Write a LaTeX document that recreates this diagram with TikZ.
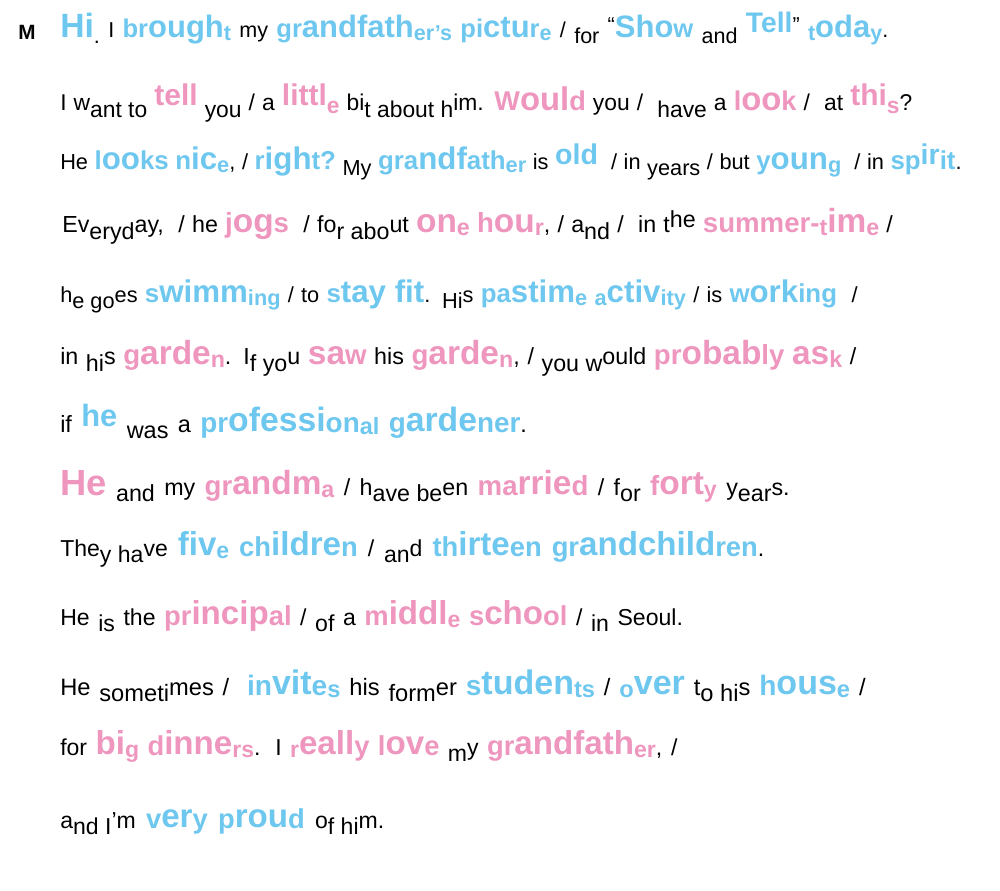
\documentclass[tikz,border=0pt]{standalone}
\usepackage{fontspec}
\setmainfont{Liberation Sans}
\definecolor{cb}{RGB}{110,199,238}
\definecolor{cp}{RGB}{238,150,190}
\def\lk{1}
\newcommand\Dn[1]{\raisebox{\fpeval{-4.3*\lk}pt}{#1}}
\newcommand\Up[1]{\raisebox{\fpeval{3.8*\lk}pt}{#1}}
\newcommand\cseg[4]{\raisebox{\fpeval{#2*\lk}pt}{\fontsize{\fpeval{#1*\lk}}{20}\selectfont\bfseries\color{#3}#4}}
\newcommand\Bs[1]{\cseg{16}{-1.5}{cb}{#1}}
\newcommand\Bm[1]{\cseg{19}{0}{cb}{#1}}
\newcommand\Bl[1]{\cseg{23}{0.5}{cb}{#1}}
\newcommand\Bu[1]{\cseg{21}{4}{cb}{#1}}
\newcommand\Ps[1]{\cseg{16}{-1.5}{cp}{#1}}
\newcommand\Pm[1]{\cseg{19}{0}{cp}{#1}}
\newcommand\Pl[1]{\cseg{23}{0.5}{cp}{#1}}
\newcommand\Pu[1]{\cseg{21}{4}{cp}{#1}}
\newcommand\Ln[3]{{\def\lk{#1}\fontsize{\fpeval{16*#1}}{20}\selectfont\makebox[#2pt][s]{#3}}}
\tikzset{txt/.style={anchor=base west,inner sep=0pt}}
\begin{document}
\begin{tikzpicture}[x=0.75pt,y=-0.75pt]
\useasboundingbox (0,0) rectangle (1000,891);
\node[txt,font=\fontsize{15.5}{15.5}\selectfont\bfseries] (m) at (18,40) {M};
\node[txt] (l1) at (60,38) {\Ln{1.01}{621}{\cseg{25}{0}{cb}{Hi}\Dn{.} I \Bm{br}\Bl{ough}\Bs{t} my \Bm{gr}\Bl{andfath}\Bs{er’s} \Bm{pi}\Bl{ctu}\Bm{r}\Bs{e} / \Dn{for} \Up{“}\Bl{Sho}\Bm{w} \Dn{and} \Bu{Tell}\Up{”} \Bs{t}\Bl{oda}\Bs{y}.}};
\node[txt] (l2) at (60,111) {\Ln{1.07}{639}{I w\Dn{ant to} \Pu{tell} \Dn{you} / a \Pu{littl}\Ps{e} bi\Dn{t about h}im. \Pm{W}\Pl{oul}\Pm{d} you / \ \Dn{have} a \Pm{l}\Pl{oo}\Pm{k} / \ at \Pu{thi}\Ps{s}?}};
\node[txt] (l3) at (60,170) {\Ln{1.02}{676}{He \Bm{l}\Bl{oo}\Bm{ks} \Bm{n}\Bl{ic}\Bs{e}, / \Bm{r}\Bl{igh}\Bm{t?} \Dn{My} \Bm{gra}\Bl{ndf}\Bm{ath}\Bs{er} is \Bu{old} \ / in \Dn{years} / but \Bm{y}\Bl{oun}\Bs{g} \ / in \Bm{sp}\Bu{ir}\Bm{it}.}};
\node[txt] (l4) at (62,233) {\Ln{1.09}{623}{Ev\Dn{eryd}ay, \ / he \Pm{j}\Pl{og}\Pm{s} \ / fo\Dn{r abo}ut \Pl{on}\Ps{e} \Pm{h}\Pl{ou}\Ps{r}, / a\Dn{nd} / \ in t\Up{he} \Pm{summer-}\Ps{t}\Pl{im}\Ps{e} /}};
\node[txt] (l5) at (60,303) {\Ln{1.02}{598}{h\Dn{e go}es \Bm{s}\Bl{wimm}\Bs{ing} / to \Bm{s}\Bl{tay fit}. \Dn{Hi}s \Bm{pa}\Bl{stim}\Bs{e} \Bs{a}\Bl{ctiv}\Bs{ity} / is \Bm{w}\Bl{ork}\Bm{ing} \ /}};
\node[txt] (l6) at (60,365) {\Ln{1.09}{597}{in \Dn{hi}s \Pm{g}\Pl{arde}\Ps{n}. I\Dn{f yo}u \Pl{sa}\Pm{w} his \Pm{g}\Pl{arde}\Ps{n}, / \Dn{you w}ould \Pm{pr}\Pl{obab}\Pm{ly} \Pl{as}\Ps{k} /}};
\node[txt] (l7) at (60,432) {\Ln{1.1}{350}{if \Bu{he} \Dn{was} a \Bm{pr}\Bl{ofessi}\Bm{on}\Bs{al} \Bm{g}\Bl{arde}\Bm{ner}.}};
\node[txt] (l8) at (60,495) {\Ln{1.09}{547}{\cseg{25}{0}{cp}{He} \Dn{and} my \Pm{gr}\Pl{andm}\Ps{a} / h\Dn{ave be}en \Pm{ma}\Pl{rrie}\Pm{d} / f\Dn{or} \Pm{f}\Pl{ort}\Ps{y} y\Dn{ear}s.}};
\node[txt] (l9) at (60,556) {\Ln{1.08}{528}{The\Dn{y ha}ve \Bl{fiv}\Bs{e} \Bm{ch}\Bl{ildre}\Bm{n} / \Dn{an}d \Bm{th}\Bl{irte}\Bm{en} \Bm{gr}\Bl{andchild}\Bm{ren}.}};
\node[txt] (l10) at (60,625) {\Ln{1.08}{467}{He \Dn{is} the \Pm{pr}\Pl{incip}\Pm{al} / \Dn{of} a \Pm{m}\Pl{iddl}\Ps{e} \Pm{s}\Pl{cho}\Pm{ol} / \Dn{in} Seoul.}};
\node[txt] (l11) at (60,695) {\Ln{1.11}{604}{He \Dn{someti}mes / \ \Bm{in}\Bl{vit}\Bm{e}\Bs{s} his \Dn{form}er \Bm{s}\Bl{tuden}\Bs{ts} / \Bs{o}\Bl{ver} t\Dn{o hi}s \Bm{h}\Bl{ous}\Bs{e} /}};
\node[txt] (l12) at (60,755) {\Ln{1.08}{463}{for \Pl{bi}\Ps{g} \Pm{d}\Pl{inne}\Ps{rs}. I \Ps{r}\Pl{eall}\Pm{y} \Pm{l}\Pl{ov}\Pm{e} \Dn{m}y \Pm{gr}\Pl{andfath}\Ps{er}, /}};
\node[txt] (l13) at (60,828) {\Ln{1.08}{243}{a\Dn{nd I}’m \Bm{v}\Bl{er}\Bm{y} \Bm{p}\Bl{rou}\Bm{d} o\Dn{f hi}m.}};
\end{tikzpicture}
\end{document}
